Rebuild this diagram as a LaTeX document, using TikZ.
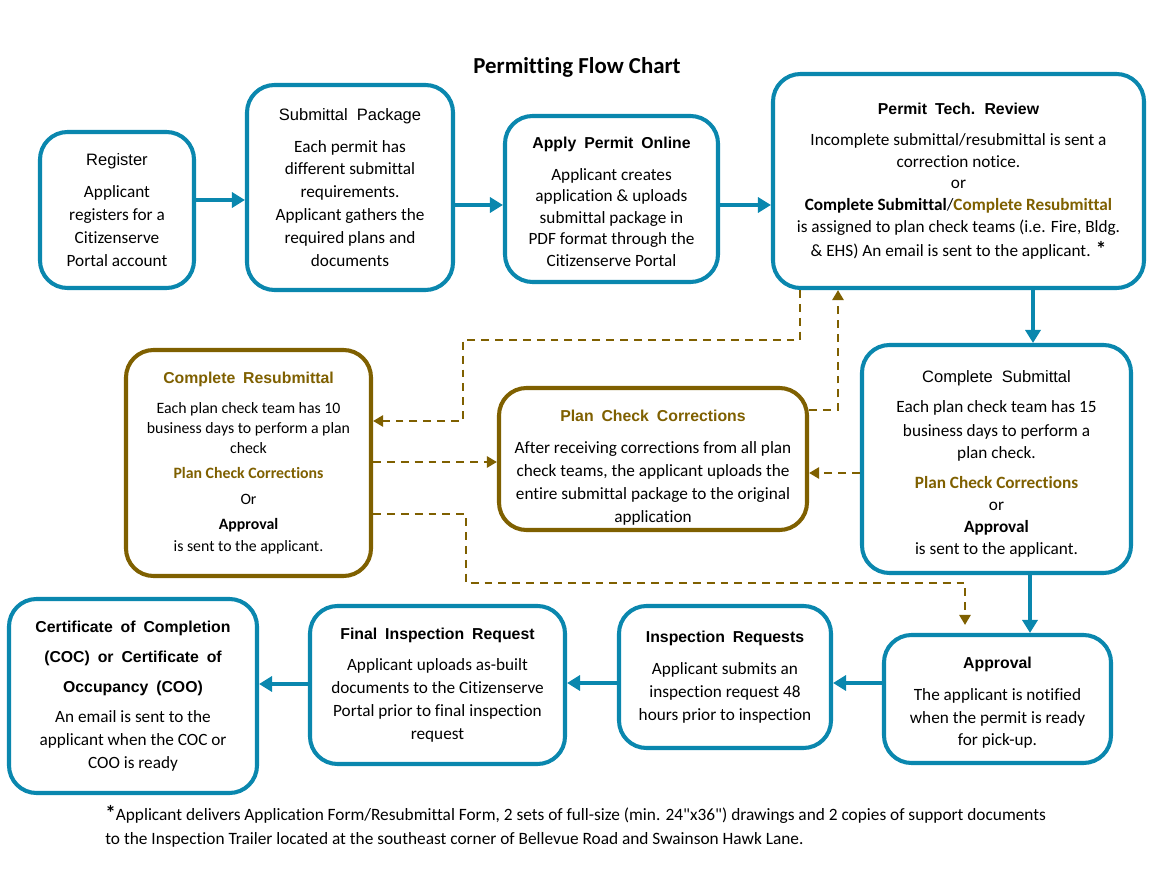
\documentclass[tikz,border=0pt]{standalone}
\usepackage{fontspec}
\setmainfont{Carlito}[Ligatures=NoCommon]
\newfontfamily\arialfont{Liberation Sans}
\usepackage{xcolor}
\usetikzlibrary{arrows.meta,positioning,calc}

\definecolor{permitblue}{HTML}{0A87AE}
\definecolor{checkgold}{HTML}{7F6000}

\newcommand{\ttlreg}[1]{{\arialfont\fontsize{9.4}{11}\selectfont\spaceskip=0.55em\relax #1}}
\newcommand{\ttlbold}[1]{{\arialfont\bfseries\fontsize{9}{11}\selectfont\spaceskip=0.5em\relax #1}}
\newcommand{\goldbf}[1]{\textcolor{checkgold}{\textbf{#1}}}

\tikzset{
  bluebox/.style={draw=permitblue, line width=2.3pt, rounded corners=5.5mm, align=center,
    inner sep=0pt, fill=white, font=\fontsize{9.8}{13}\selectfont},
  goldbox/.style={bluebox, draw=checkgold},
  boxsize/.style 2 args={minimum width=#1*0.2mm, minimum height=#2*0.2mm},
  blueflow/.style={draw=permitblue, line width=2.3pt, -{Triangle[length=2.6mm,width=3mm]}},
  goldflow/.style={draw=checkgold, line width=1.4pt, dash pattern=on 4.5pt off 3.4pt,
    -{Triangle[length=2mm,width=2.2mm]}},
}

\begin{document}
\begin{tikzpicture}[x=0.2mm, y=-0.2mm]
    \useasboundingbox (0,0) rectangle (1150,889);

    % title
    \node[font=\bfseries\fontsize{13}{15}\selectfont] (title) at (577,67) {Permitting Flow Chart};

    % top row
    \node[bluebox, boxsize={154}{156}] (reg) at (117,210)
        {\ttlreg{Register}\\[5pt]
         Applicant\\ registers for a\\ Citizenserve\\ Portal account};
    \node[bluebox, boxsize={206}{205}] (pkg) at (350,187.5)
        {\ttlreg{Submittal Package}\\[5pt]
         Each permit has\\ different submittal\\ requirements.\\
         Applicant gathers the\\ required plans and\\ documents};
    \node[bluebox, boxsize={213}{166}, font=\fontsize{9.8}{12.3}\selectfont] (apply) at (611.5,199)
        {\rule{0pt}{10pt}\ttlbold{Apply Permit Online}\\[5.5pt]
         Applicant creates\\ application \& uploads\\ submittal package in\\
         PDF format through the\\ Citizenserve Portal};
    \node[bluebox, boxsize={371}{214}, font=\fontsize{9.8}{12.3}\selectfont] (tech) at (958.5,181)
        {\ttlbold{Permit Tech. Review}\\[5.5pt]
         Incomplete submittal/resubmittal is sent a\\ correction notice.\\ or\\
         \textbf{Complete Submittal}/\goldbf{Complete Resubmittal}\\
         is assigned to plan check teams (i.e. Fire, Bldg.\\[1.5pt]
         \& EHS) An email is sent to the applicant. \textbf{\large*}};

    % middle row
    \node[bluebox, boxsize={269}{228}, font=\fontsize{9.8}{12.5}\selectfont] (csub) at (996.5,459)
        {\rule{0pt}{12pt}\ttlreg{Complete Submittal}\\[5pt]
         Each plan check team has 15\\[1pt] business days to perform a\\ plan check.\\[4.5pt]
         \goldbf{Plan Check Corrections}\\ or\\ \textbf{Approval}\\ is sent to the applicant.};
    \node[goldbox, boxsize={308}{142}] (pcc) at (653,459)
        {\rule{0pt}{16pt}\textcolor{checkgold}{\ttlbold{Plan Check Corrections}}\\[5.5pt]
         After receiving corrections from all plan\\ check teams, the applicant uploads the\\
         entire submittal package to the original\\ application};
    \node[goldbox, boxsize={245}{226}, font=\fontsize{9}{11.4}\selectfont] (resub) at (248.5,463)
        {\ttlbold{\textcolor{checkgold}{Complete Resubmittal}}\\[5.5pt]
         Each plan check team has 10\\ business days to perform a plan\\ check\\[3pt]
         \goldbf{Plan Check Corrections}\\[3pt] Or\\[3pt] \textbf{Approval}\\[1pt] is sent to the applicant.};

    % bottom row
    \node[bluebox, boxsize={227}{128}] (appr) at (997.5,699)
        {\rule{0pt}{11pt}\ttlbold{Approval}\\[5pt]
         The applicant is notified\\ when the permit is ready\\ for pick-up.};
    \node[bluebox, boxsize={212}{142}] (insp) at (725,677)
        {\ttlbold{Inspection Requests}\\[5pt]
         Applicant submits an\\ inspection request 48\\ hours prior to inspection};
    \node[bluebox, boxsize={255}{158}] (final) at (437.5,685)
        {\ttlbold{Final Inspection Request}\\[5pt]
         Applicant uploads as-built\\ documents to the Citizenserve\\
         Portal prior to final inspection\\ request};
    \node[bluebox, boxsize={248}{194}] (coc) at (133,696)
        {\ttlbold{Certificate of Completion}\\[4pt]
         \ttlbold{(COC) or Certificate of}\\[4pt]
         \ttlbold{Occupancy (COO)}\\[4pt]
         An email is sent to the\\ applicant when the COC or\\ COO is ready};

    % footnote
    \node[anchor=north west, align=left, inner sep=0pt, font=\fontsize{9.85}{13.7}\selectfont] (note) at (105,805)
        {\textbf{\large*}Applicant delivers Application Form/Resubmittal Form, 2 sets of full-size (min. 24\textquotedbl x36\textquotedbl) drawings and 2 copies of support documents\\
         to the Inspection Trailer located at the southeast corner of Bellevue Road and Swainson Hawk Lane.};

    % main flow
    \draw[blueflow] (reg.east |- 0,200) -- (pkg.west |- 0,200);
    \draw[blueflow] (pkg.east |- 0,205) -- (apply.west |- 0,205);
    \draw[blueflow] (apply.east |- 0,205) -- (tech.west |- 0,205);
    \draw[blueflow] (tech.south -| 1033,0) -- (csub.north -| 1033,0);
    \draw[blueflow] (csub.south -| 1030,0) -- (appr.north -| 1030,0);
    \draw[blueflow] (appr.west |- 0,683) -- (insp.east |- 0,683);
    \draw[blueflow] (insp.west |- 0,683) -- (final.east |- 0,683);
    \draw[blueflow] (final.west |- 0,684) -- (coc.east |- 0,684);

    % correction loop
    \draw[goldflow] (tech.south -| 800,0) |- (463,340) |- (resub.east |- 0,421);
    \draw[goldflow] (pcc.east |- 0,410) -| (tech.south -| 838,0);
    \draw[goldflow] (csub.west |- 0,473) -- (pcc.east |- 0,473);
    \draw[goldflow] (resub.east |- 0,462) -- (pcc.west |- 0,462);
    \draw[goldflow, shorten >=1.6mm] (resub.east |- 0,514) -| (466,583) -| (appr.north -| 965,0);
\end{tikzpicture}
\end{document}
